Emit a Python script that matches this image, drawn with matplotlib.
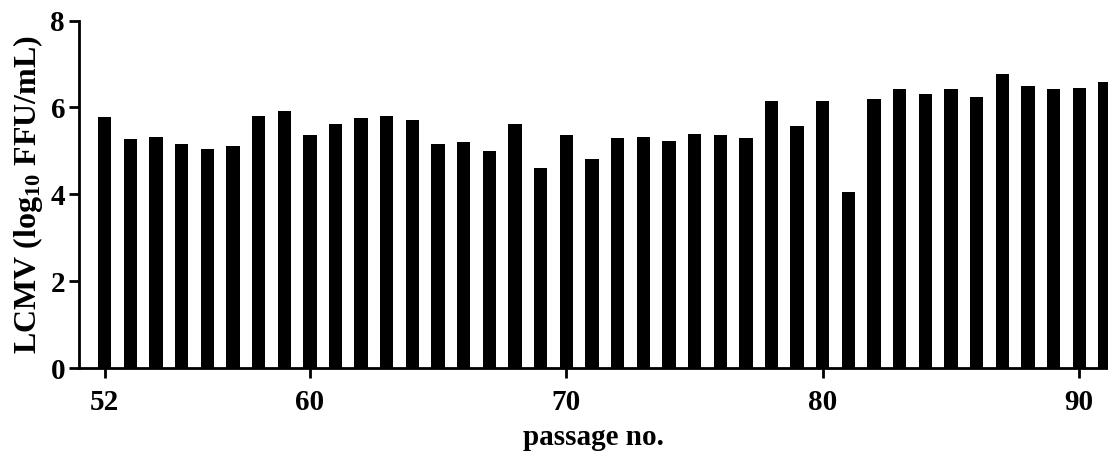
import numpy as np
import matplotlib
matplotlib.use("Agg")
import matplotlib.pyplot as plt


passages = np.arange(52, 92)

titers = [
    5.79, 5.27, 5.33, 5.15, 5.05, 5.11, 5.81, 5.91, 5.36, 5.61,
    5.75, 5.81, 5.70, 5.15, 5.20, 5.00, 5.61, 4.60, 5.36, 4.81,
    5.30, 5.33, 5.23, 5.38, 5.36, 5.30, 6.15, 5.58, 6.15, 4.06,
    6.19, 6.43, 6.32, 6.43, 6.23, 6.77, 6.50, 6.43, 6.44, 6.58,
]

xticks = [52, 60, 70, 80, 90]
yticks = [0, 2, 4, 6, 8]


plt.rcParams["font.family"] = "Liberation Serif"
plt.rcParams["font.weight"] = "bold"
plt.rcParams["mathtext.fontset"] = "custom"
plt.rcParams["mathtext.rm"] = "Liberation Serif:bold"
plt.rcParams["mathtext.default"] = "rm"

fig = plt.figure(figsize=(11.08, 4.58), dpi=100)
ax = fig.add_axes([0.0713, 0.1965, 0.9287, 0.7585])

ax.bar(passages, titers, width=0.52, color="black")

ax.set_xlim(51.0, 91.12)
ax.set_ylim(0, 8)
ax.set_xticks(xticks)
ax.set_yticks(yticks)

ax.spines["top"].set_visible(False)
ax.spines["right"].set_visible(False)
ax.spines["left"].set_linewidth(2)
ax.spines["bottom"].set_linewidth(2)

ax.tick_params(axis="both", width=2, length=7, labelsize=21)
ax.tick_params(axis="x", pad=8)
ax.tick_params(axis="y", pad=3)

for lab in ax.get_xticklabels() + ax.get_yticklabels():
    lab.set_fontweight("bold")

ax.set_xlabel("passage no.", fontsize=21, fontweight="bold", labelpad=6)
ax.set_ylabel(r"LCMV (log$_{10}$ FFU/mL)", fontsize=23, fontweight="bold", labelpad=4)

plt.savefig("out.png", dpi=100)
